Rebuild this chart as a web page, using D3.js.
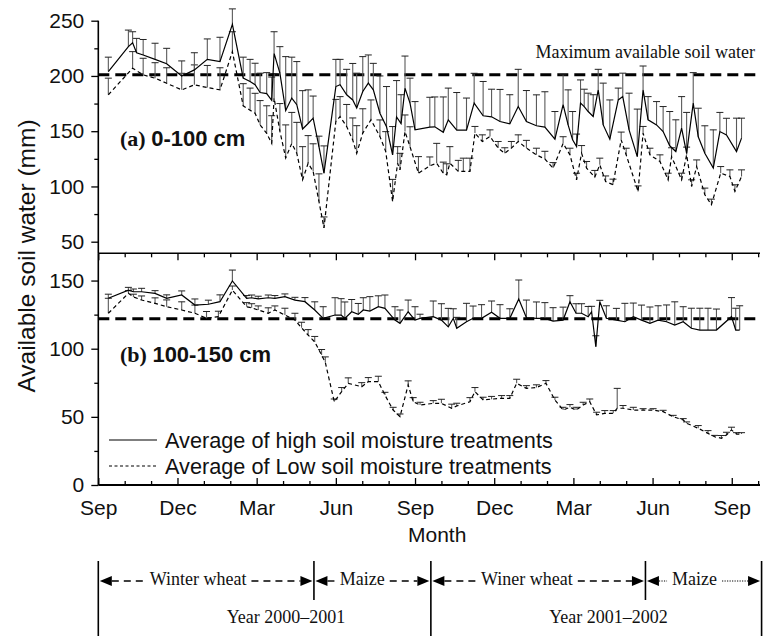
<!DOCTYPE html>
<html><head><meta charset="utf-8">
<script src="https://cdn.jsdelivr.net/npm/d3@7/dist/d3.min.js"></script>
<style>body{margin:0;background:#fff}</style>
</head><body>
<svg id="c" width="766" height="636"></svg>
<script>
// ---- data: [month since Sep 2000, available soil water (mm), + error (mm)]
const topHigh = [[0.38,204,13],[1.14,226.5,15],[1.30,230,10],[1.45,221,13],[1.70,219,14],[2.15,215,14.6],[2.59,211,14],[3.16,200,13.6],[3.64,205.5,15.5],[4.13,215,18.5],[4.61,213,22],[5.08,246.7,14],[5.49,198,19],[5.75,195,20],[5.94,192,19.5],[6.13,185,17.5],[6.38,184,19],[6.57,178,21],[6.66,220.5,19.5],[6.88,202.5,24],[7.10,168.7,48.8],[7.33,180,37],[7.52,174,39],[7.74,152,34.7],[7.95,157,30.4],[8.14,161.8,20],[8.36,136,9.5],[8.55,112,24.7],[9.00,190.4,24.6],[9.16,192,23],[9.41,183,23],[9.64,178.3,33],[9.79,171,31.5],[10.02,186,31.5],[10.23,193.5,25.5],[10.42,187.4,24],[10.67,166.3,33.7],[10.92,154,36.4],[11.15,128.6,25.6],[11.30,163,32.8],[11.47,157,26],[11.62,189,29],[11.81,175.4,22.6],[12.00,151.2,25.6],[12.56,153.7,27],[12.75,154,27],[13.07,149,32],[13.26,160.3,28.7],[13.58,151,34],[13.95,151,29],[14.24,175.4,27],[14.58,164,31],[14.90,163,25],[15.22,158.8,29],[15.59,156.6,26.4],[15.91,172.3,33.7],[16.22,158.8,28],[16.60,154.9,28],[16.92,153.7,32],[17.30,142.8,25],[17.61,174,27],[17.80,155.7,31.7],[17.97,142.2,25.6],[18.12,136,11.4],[18.27,175.4,21],[18.41,172.3,15.7],[18.56,167.8,16.6],[18.75,163.3,19.7],[18.94,187.4,18.6],[19.13,155.7,37.8],[19.38,142.8,35.5],[19.70,178.3,10.7],[19.87,181.3,21.2],[20.11,151.2,33.2],[20.42,127,43],[20.64,187.4,21.6],[20.83,160.3,21],[21.15,155.7,21.1],[21.40,149.7,22.6],[21.65,136.8,31],[21.88,131.6,28.7],[22.10,152.8,28.5],[22.29,130,37],[22.54,175.4,27.6],[22.73,145,25.8],[22.98,130,24.9],[23.30,116.6,34.6],[23.55,149.7,17.3],[23.80,146.7,15],[24.18,131.6,30.2],[24.37,143.7,18.1]];
const topLow = [[0.38,183,15],[1.30,207,15],[1.70,201,15],[2.15,198,14],[2.59,193.4,14],[3.16,187.4,15],[3.64,192,18],[4.13,189.5,20],[4.61,187.4,20],[5.08,222,18],[5.49,173,20],[5.75,169,20],[5.94,166.3,18],[6.13,155.7,22],[6.38,148,25],[6.57,139,25],[6.66,180,22],[6.88,150,25],[7.10,125.7,30],[7.33,139,28],[7.52,130,28],[7.74,106,30],[7.95,121,25],[8.14,113.6,25],[8.36,86.4,25],[8.55,62.4,10],[9.00,158.8,20],[9.16,163.3,18],[9.41,154.2,20],[9.64,142,20],[9.79,130,25],[10.02,148.3,22],[10.33,160.3,18],[10.67,145.2,15],[10.89,131.6,18],[11.15,86.4,20],[11.34,121,15],[11.43,115,15],[11.62,149.7,15],[11.81,136,18],[12.13,112,15],[12.56,118.7,8],[12.82,121,18],[13.07,112,10],[13.20,110.5,10],[13.32,121,15],[13.64,113.6,10],[13.83,113.6,12],[14.08,113.6,12],[14.27,148.3,6],[14.55,140.7,6],[14.84,145.2,6],[15.15,134.7,6],[15.40,130,5],[15.65,134.7,6],[15.91,140.7,6],[16.22,134.7,7],[16.60,128.6,6],[16.92,124.8,7],[17.23,116.6,5],[17.61,139,6],[17.87,128.6,6],[18.12,106,6],[18.31,130,7],[18.50,116.6,6],[18.81,108.5,6],[19.00,119.6,6],[19.22,104.5,5],[19.50,101.6,5],[19.81,142.2,7],[20.00,128.6,6],[20.45,95.5,5],[20.64,148.3,6],[20.90,128.6,6],[21.28,122.6,6],[21.59,106,6],[21.72,127,8],[22.10,106,6],[22.29,128.6,7],[22.48,100,6],[22.67,118,6],[22.98,92.5,6],[23.23,83.5,5],[23.58,112,6],[23.93,109,6],[24.12,95.5,6],[24.37,109,6]];
const botHigh = [[0.38,137,3],[1.14,143,2],[1.33,141.8,2],[1.64,141.8,2.5],[2.15,140.6,2],[2.59,137,2.5],[3.16,139.4,3],[3.66,132,4.5],[4.17,132.6,3],[4.61,134.5,5],[5.08,149.7,8],[5.62,137,2],[5.81,137.4,2],[6.06,136.5,2],[6.44,137.4,2],[6.69,137,2],[7.07,138.2,2],[7.45,135.7,2],[7.83,134.5,3],[8.20,128.4,6],[8.52,122.3,8.5],[8.97,124.7,12.7],[9.20,124.7,12],[9.34,122.3,12],[9.60,127.1,9],[9.85,125.2,8],[10.04,128.4,9],[10.29,127.6,10.6],[10.61,130.8,8],[10.86,129.6,9.8],[11.24,121,9.8],[11.43,118.6,9.8],[11.74,127.1,8.6],[12.00,121,9.8],[12.19,122.3,3],[12.69,123.5,11.5],[13.00,121,12],[13.26,116,13.6],[13.45,122.3,7],[13.58,115,8],[13.95,119.8,13.5],[14.20,122.3,9],[14.52,122.3,10],[14.90,126.7,8.3],[15.22,122.3,10],[15.59,122.3,7],[15.93,136.5,13.9],[16.22,122.7,13],[16.60,122.3,12],[16.92,122.3,11.5],[17.23,120.3,9.8],[17.61,121,9.5],[17.87,134.5,4.4],[18.10,126,7],[18.31,126,7],[18.56,123.5,7.5],[18.69,127.1,4],[18.85,101.5,8],[19.00,134.5,1],[19.25,122.3,9.2],[19.63,121,8.6],[19.95,119.8,13.5],[20.27,123.5,10],[20.58,121,11],[20.90,118.6,12],[21.21,121,10.5],[21.53,119.8,12.3],[21.84,117.4,17],[22.16,119.8,11],[22.47,115,14.7],[22.79,113.7,16],[23.10,113.7,16],[23.42,113.7,15.4],[23.99,123.5,14],[24.15,113.7,16],[24.30,113.7,17.8]];
const botLow = [[0.38,126,11],[1.14,140.6,2],[1.33,138,2],[1.64,135.7,3],[2.15,133.3,4],[2.59,130.8,5],[3.16,128.4,6],[3.66,126,6],[4.10,122.3,5],[4.55,123.5,4],[5.08,143,3],[5.62,130.8,3],[5.81,130,3],[6.06,128.4,3],[6.44,126,4],[6.69,128.4,3],[7.07,124.7,5],[7.45,121,5],[7.70,115.4,4],[7.95,110,4],[8.20,105,4],[8.46,95.4,4],[8.60,90,4],[8.94,61.1,2],[9.22,68.5,3],[9.47,74.6,4],[9.98,72.1,3],[10.23,75.8,3],[10.61,75.8,4],[10.86,66,2],[11.17,55,2],[11.43,50.1,2],[11.74,73.4,3],[11.93,61.1,3],[12.19,58.7,2],[12.69,59.9,2],[13.00,59.9,3],[13.39,56.3,3],[13.58,58,2],[14.08,61.1,3],[14.27,68.5,3],[14.58,62.4,2],[14.90,63,2],[15.28,63.6,2],[15.59,63.6,2],[15.85,74.6,3],[16.22,70.9,2],[16.60,71.5,2],[16.96,74.6,2],[17.30,62.4,2],[17.61,55,2],[17.87,57,2],[18.10,55,2],[18.37,58.7,2],[18.62,61.1,2],[18.88,51.4,2],[19.19,52.6,2],[19.51,52.6,2],[19.66,56.3,14.6],[19.88,56.3,2],[20.27,55,2],[20.64,55,1],[21.02,55,1],[21.40,53.8,1],[21.78,50.1,1],[22.16,47.7,1],[22.29,45.3,1],[22.73,41.6,2],[23.10,37.9,2],[23.35,35.4,1],[23.61,34.3,2],[23.80,36.7,2],[23.99,40.4,2],[24.18,37.4,1],[24.37,37.4,1]];
const topMaxWater = 201;
const botMaxWater = 122;
const monthNames = ["Sep","Dec","Mar","Jun","Sep","Dec","Mar","Jun","Sep"];
const majorMonths = [0,3,6,9,12,15,18,21,24];
const topYTicks = [50,100,150,200,250], topYMinor = [75,125,175,225];
const botYTicks = [0,50,100,150], botYMinor = [25,75,125];
const phases = [
  {name:"Winter wheat", from:0, to:8.17, at:3.78, style:"dash"},
  {name:"Maize", from:8.17, to:12.6, at:10.0, style:"dash"},
  {name:"Winer wheat", from:12.6, to:20.73, at:16.24, style:"dash"},
  {name:"Maize", from:20.73, to:25.13, at:22.59, style:"dot"}];
const yearEdges = [0, 12.6, 25.13];
const seasonEdges = [8.17, 20.73];
const years = [{name:"Year 2000\u20132001", at:7.11},{name:"Year 2001\u20132002", at:19.33}];
const legendItems = [{name:"Average of high soil moisture treatments", dash:null},{name:"Average of Low soil moisture treatments", dash:"3,2.5"}];

// ---- drawing
const svg = d3.select("#c");
const SANS = "'Liberation Sans', Arial, Helvetica, sans-serif";
const SERIF = "'Liberation Serif', 'Times New Roman', serif";
const x = d3.scaleLinear().domain([0, 25.07]).range([98.3, 760]);
const yTop = d3.scaleLinear().domain([39.5, 250]).range([253.3, 20.7]);
const yBot = d3.scaleLinear().domain([0, 170]).range([485, 253.3]);
const allMonths = d3.range(0, 26);
const minorMonths = allMonths.filter(m => !majorMonths.includes(m));

function yAxis(scale, major, minor) {
  const g = svg.append("g").attr("transform", `translate(${x(0)},0)`);
  g.call(d3.axisLeft(scale).tickValues(major).tickSize(7).tickPadding(7).tickFormat(d3.format("d")));
  g.append("g").call(d3.axisLeft(scale).tickValues(minor).tickSize(4).tickFormat(""));
  g.selectAll(".domain").remove();
  g.selectAll("line").attr("stroke", "#000").attr("stroke-width", 1.3);
  g.selectAll("text").attr("font-family", SANS).attr("font-size", 21).attr("fill", "#111");
  g.append("line").attr("y1", scale.range()[0]).attr("y2", scale.range()[1]).attr("stroke", "#000").attr("stroke-width", 1.6);
}
yAxis(yTop, topYTicks, topYMinor);
yAxis(yBot, botYTicks, botYMinor);

// bottom x axis (ticks inside, pointing up)
const xb = svg.append("g").attr("transform", `translate(0,${yBot(0)})`);
xb.call(d3.axisBottom(x).tickValues(majorMonths).tickSize(-7).tickPadding(15).tickFormat((d,i) => monthNames[i]));
xb.append("g").call(d3.axisBottom(x).tickValues(minorMonths).tickSize(-4).tickFormat(""));
xb.selectAll(".domain").remove();
xb.selectAll("line").attr("stroke", "#000").attr("stroke-width", 1.3);
xb.selectAll("text").attr("font-family", SANS).attr("font-size", 21).attr("fill", "#111");
xb.append("line").attr("x1", x.range()[0]).attr("x2", x.range()[1]).attr("stroke", "#000").attr("stroke-width", 2);

// panel separator axis (ticks pointing down)
const xm = svg.append("g").attr("transform", `translate(0,${yBot(170)})`);
xm.call(d3.axisBottom(x).tickValues(majorMonths).tickSize(7).tickFormat(""));
xm.append("g").call(d3.axisBottom(x).tickValues(minorMonths).tickSize(4).tickFormat(""));
xm.selectAll(".domain").remove();
xm.selectAll("line").attr("stroke", "#000").attr("stroke-width", 1.3);
xm.append("line").attr("x1", x.range()[0]).attr("x2", x.range()[1]).attr("stroke", "#000").attr("stroke-width", 1.6);

svg.append("text").attr("x", (x.range()[0]+x.range()[1])/2 + 8).attr("y", 542).attr("text-anchor", "middle")
  .attr("font-family", SANS).attr("font-size", 21).attr("fill", "#111").text("Month");
svg.append("text").attr("transform", "translate(35,256) rotate(-90)").attr("text-anchor", "middle")
  .attr("font-family", SANS).attr("font-size", 24.5).attr("fill", "#111").text("Available soil water (mm)");

// reference lines
[[yTop, topMaxWater],[yBot, botMaxWater]].forEach(([s, v]) => {
  svg.append("line").attr("x1", x.range()[0]).attr("x2", x.range()[1]).attr("y1", s(v)).attr("y2", s(v))
    .attr("stroke", "#000").attr("stroke-width", 3).attr("stroke-dasharray", "11,6");
});
svg.append("text").attr("x", x.range()[1] - 5).attr("y", yTop(topMaxWater) - 17).attr("text-anchor", "end")
  .attr("font-family", SERIF).attr("font-size", 18).attr("fill", "#111").text("Maximum available soil water");

// series
function series(data, s, dash) {
  const g = svg.append("g");
  g.selectAll("line.stem").data(data).join("line").attr("class","stem")
    .attr("x1", d => x(d[0])).attr("x2", d => x(d[0]))
    .attr("y1", d => s(d[1])).attr("y2", d => s(d[1] + d[2]))
    .attr("stroke", "#5a5a5a").attr("stroke-width", 1.1);
  g.selectAll("line.cap").data(data).join("line").attr("class","cap")
    .attr("x1", d => x(d[0]) - 3.5).attr("x2", d => x(d[0]) + 3.5)
    .attr("y1", d => s(d[1] + d[2])).attr("y2", d => s(d[1] + d[2]))
    .attr("stroke", "#222").attr("stroke-width", 1);
  g.append("path").datum(data)
    .attr("d", d3.line().x(d => x(d[0])).y(d => s(d[1])))
    .attr("fill", "none").attr("stroke", "#000").attr("stroke-width", 1.2)
    .attr("stroke-dasharray", dash);
}
series(topLow, yTop, "4,3");
series(topHigh, yTop, null);
series(botLow, yBot, "4,3");
series(botHigh, yBot, null);

// panel labels
function panelLabel(tag, txt, yv) {
  const t = svg.append("text").attr("x", 120).attr("y", yv).attr("font-size", 22).attr("font-weight", "bold").attr("fill", "#111");
  t.append("tspan").attr("font-family", SERIF).text(tag + " ");
  t.append("tspan").attr("font-family", SANS).text(txt);
}
panelLabel("(a)", "0-100 cm", 146);
panelLabel("(b)", "100-150 cm", 362);

// legend
legendItems.forEach((it, i) => {
  const yy = 440 + i * 26;
  svg.append("line").attr("x1", 109).attr("x2", 157).attr("y1", yy).attr("y2", yy)
    .attr("stroke", "#000").attr("stroke-width", 1.2).attr("stroke-dasharray", it.dash);
  svg.append("text").attr("x", 165).attr("y", yy + 7.5).attr("font-family", SANS).attr("font-size", 21.7)
    .attr("fill", "#111").text(it.name);
});

// crop season annotation
const annTop = 561, arrowY = 581;
yearEdges.forEach(m => svg.append("line").attr("x1", x(m)).attr("x2", x(m)).attr("y1", annTop).attr("y2", 640)
  .attr("stroke", "#000").attr("stroke-width", 1.6));
seasonEdges.forEach(m => svg.append("line").attr("x1", x(m)).attr("x2", x(m)).attr("y1", annTop).attr("y2", 600)
  .attr("stroke", "#000").attr("stroke-width", 1.6));
phases.forEach(p => {
  const x0 = x(p.from) + 1.5, x1 = x(p.to) - 1.5;
  const t = svg.append("text").attr("x", x(p.at)).attr("y", 584.5).attr("text-anchor", "middle")
    .attr("font-family", SERIF).attr("font-size", 18).attr("fill", "#111").text(p.name);
  const w = t.node().getComputedTextLength();
  const tx0 = x(p.at) - w/2 - 5, tx1 = x(p.at) + w/2 + 5;
  const dash = p.style === "dot" ? "1.2,1.3" : "7,5";
  const sw = p.style === "dot" ? 1 : 1.4;
  [[x0 + 12, tx0], [tx1, x1 - 12]].forEach(([a, b]) => {
    svg.append("line").attr("x1", a).attr("x2", b).attr("y1", arrowY).attr("y2", arrowY)
      .attr("stroke", "#000").attr("stroke-width", sw).attr("stroke-dasharray", dash);
  });
  svg.append("path").attr("d", `M${x0},${arrowY}L${x0+12},${arrowY-5}L${x0+12},${arrowY+5}Z`).attr("fill", "#000");
  svg.append("path").attr("d", `M${x1},${arrowY}L${x1-12},${arrowY-5}L${x1-12},${arrowY+5}Z`).attr("fill", "#000");
});
years.forEach(yv => svg.append("text").attr("x", x(yv.at)).attr("y", 623).attr("text-anchor", "middle")
  .attr("font-family", SERIF).attr("font-size", 18).attr("fill", "#111").text(yv.name));
</script>
</body></html>
